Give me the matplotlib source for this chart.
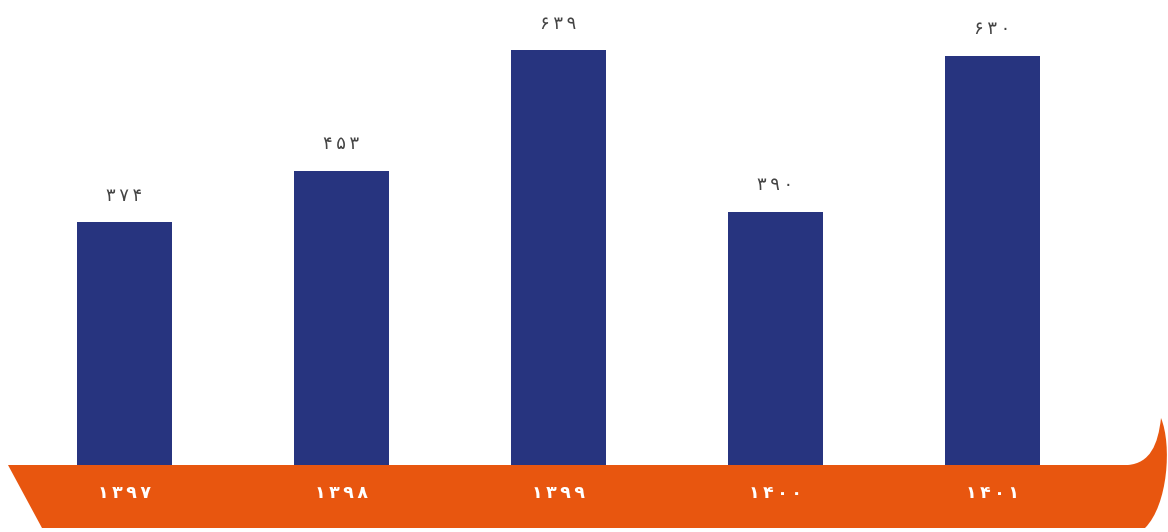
import matplotlib
matplotlib.use("Agg")
import matplotlib.pyplot as plt
from matplotlib.path import Path
from matplotlib.patches import PathPatch

categories = ["۱۳۹۷", "۱۳۹۸", "۱۳۹۹", "۱۴۰۰", "۱۴۰۱"]
values = [374, 453, 639, 390, 630]

BAR_COLOR = "#27347f"
RIBBON_COLOR = "#e8560f"
FA = str.maketrans("0123456789", "۰۱۲۳۴۵۶۷۸۹")
SP = "\u2009"

W, H = 1168, 532
fig = plt.figure(figsize=(W / 100, H / 100), dpi=100)
fig.patch.set_facecolor("white")

deco = fig.add_axes([0, 0, 1, 1])
deco.set_xlim(0, W)
deco.set_ylim(H, 0)
deco.axis("off")

verts = [
    (8, 465),
    (1128, 465),
    (1150, 463), (1158, 445), (1161, 418),
    (1172, 445), (1168, 505), (1145, 528),
    (42, 528),
    (8, 465),
]
codes = [Path.MOVETO, Path.LINETO,
         Path.CURVE4, Path.CURVE4, Path.CURVE4,
         Path.CURVE4, Path.CURVE4, Path.CURVE4,
         Path.LINETO, Path.CLOSEPOLY]
deco.add_patch(PathPatch(Path(verts, codes), facecolor=RIBBON_COLOR,
                         edgecolor="none", zorder=1))

ax = fig.add_axes([0, 0, 1, 1], facecolor="none")
px_per_unit = 415 / 639
base = H - 465
ax.set_ylim(-base / px_per_unit, (H - base) / px_per_unit)
spacing = 217
c0 = 124.5
ax.set_xlim(-c0 / spacing, (W - c0) / spacing)
ax.axis("off")

x = list(range(len(categories)))
ax.bar(x, values, width=95 / spacing, color=BAR_COLOR, zorder=2)

for xi, v in zip(x, values):
    label = SP.join(str(v).translate(FA))
    ax.annotate(label, (xi, v), xytext=(0, 19),
                textcoords="offset points", ha="center", va="center",
                fontsize=13, color="#444444", family="DejaVu Sans")

for xi, c in zip(x, categories):
    ax.text(xi, -(493 - 465) / px_per_unit, SP.join(c), ha="center",
            va="center", fontsize=12.5, fontweight="bold", color="white",
            family="DejaVu Sans", zorder=3)

fig.savefig("out.png", dpi=100)
